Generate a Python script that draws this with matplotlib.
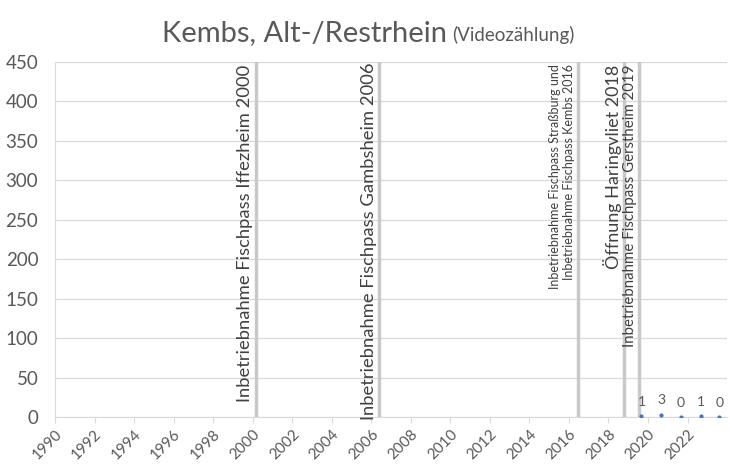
"""Kembs, Alt-/Restrhein - video count chart with fish pass events."""
import matplotlib
matplotlib.use("Agg")
import matplotlib.pyplot as plt
from matplotlib.transforms import ScaledTranslation

plt.rcParams['font.family'] = ['Lato', 'DejaVu Sans']

GRAY_TXT = '#595959'
GRID = '#d9d9d9'
EVENT_LINE = '#c9c9c9'

# data
years = [2019.67, 2020.67, 2021.67, 2022.67, 2023.6]
counts = [1, 3, 0, 1, 0]

event_x = [2000.16, 2006.4, 2016.45, 2018.8, 2019.55]
event_labels = [
    "Inbetriebnahme Fischpass Iffezheim 2000",
    "Inbetriebnahme Fischpass Gambsheim 2006",
    "Inbetriebnahme Fischpass Straßburg und\nInbetriebnahme Fischpass Kembs 2016",
    "Öffnung Haringvliet 2018",
    "Inbetriebnahme Fischpass Gerstheim 2019",
]
event_sizes = [13.2, 13.2, 9, 13, 10.8]
event_tops = [447, 450, 447, 447, 447]

x_ticks = list(range(1990, 2023, 2))
y_ticks = list(range(0, 451, 50))

fig = plt.figure(figsize=(7.3, 4.7), dpi=100)
ax = fig.add_axes([0.0753, 0.1128, 0.9207, 0.7552])

ax.set_xlim(1990, 2024)
ax.set_ylim(0, 450)

ax.set_yticks(y_ticks)
ax.set_xticks(x_ticks)
ax.set_xticklabels([str(t) for t in x_ticks], rotation=45, ha='right',
                   rotation_mode='anchor', fontsize=11, color=GRAY_TXT)
shift = ScaledTranslation(9 / 100, 0, fig.dpi_scale_trans)
for lbl in ax.get_xticklabels():
    lbl.set_transform(lbl.get_transform() + shift)
ax.tick_params(axis='y', labelsize=13.5, labelcolor=GRAY_TXT, length=0, pad=12)
ax.tick_params(axis='x', length=4, color=GRID, pad=3)

ax.grid(axis='y', color=GRID, linewidth=0.9)
ax.set_axisbelow(True)
for side in ['top', 'right']:
    ax.spines[side].set_visible(False)
ax.spines['left'].set_color(GRID)
ax.spines['bottom'].set_color(GRID)

# event lines and labels
for xv, lab, fs, top in zip(event_x, event_labels, event_sizes, event_tops):
    ax.axvline(xv, color=EVENT_LINE, linewidth=2.5, zorder=1)
    ax.text(xv - 0.12, top, lab, rotation=90, ha='right', va='top',
            fontsize=fs, color='#404040', multialignment='right', zorder=3)

# data points
ax.plot(years, counts, linestyle='none', marker='o', markersize=2,
        color='#4472c4', zorder=4)
for xv, v in zip(years, counts):
    ax.annotate(str(v), (xv, v), xytext=(0, 6), textcoords='offset points',
                ha='center', va='bottom', fontsize=10, color=GRAY_TXT)

# title
fig.text(0.612, 0.912, "Kembs, Alt-/Restrhein", ha='right', va='baseline',
         fontsize=21, color=GRAY_TXT)
fig.text(0.619, 0.912, "(Videozählung)", ha='left', va='baseline',
         fontsize=13.5, color=GRAY_TXT)

fig.savefig('out.png', dpi=100, facecolor='white')
